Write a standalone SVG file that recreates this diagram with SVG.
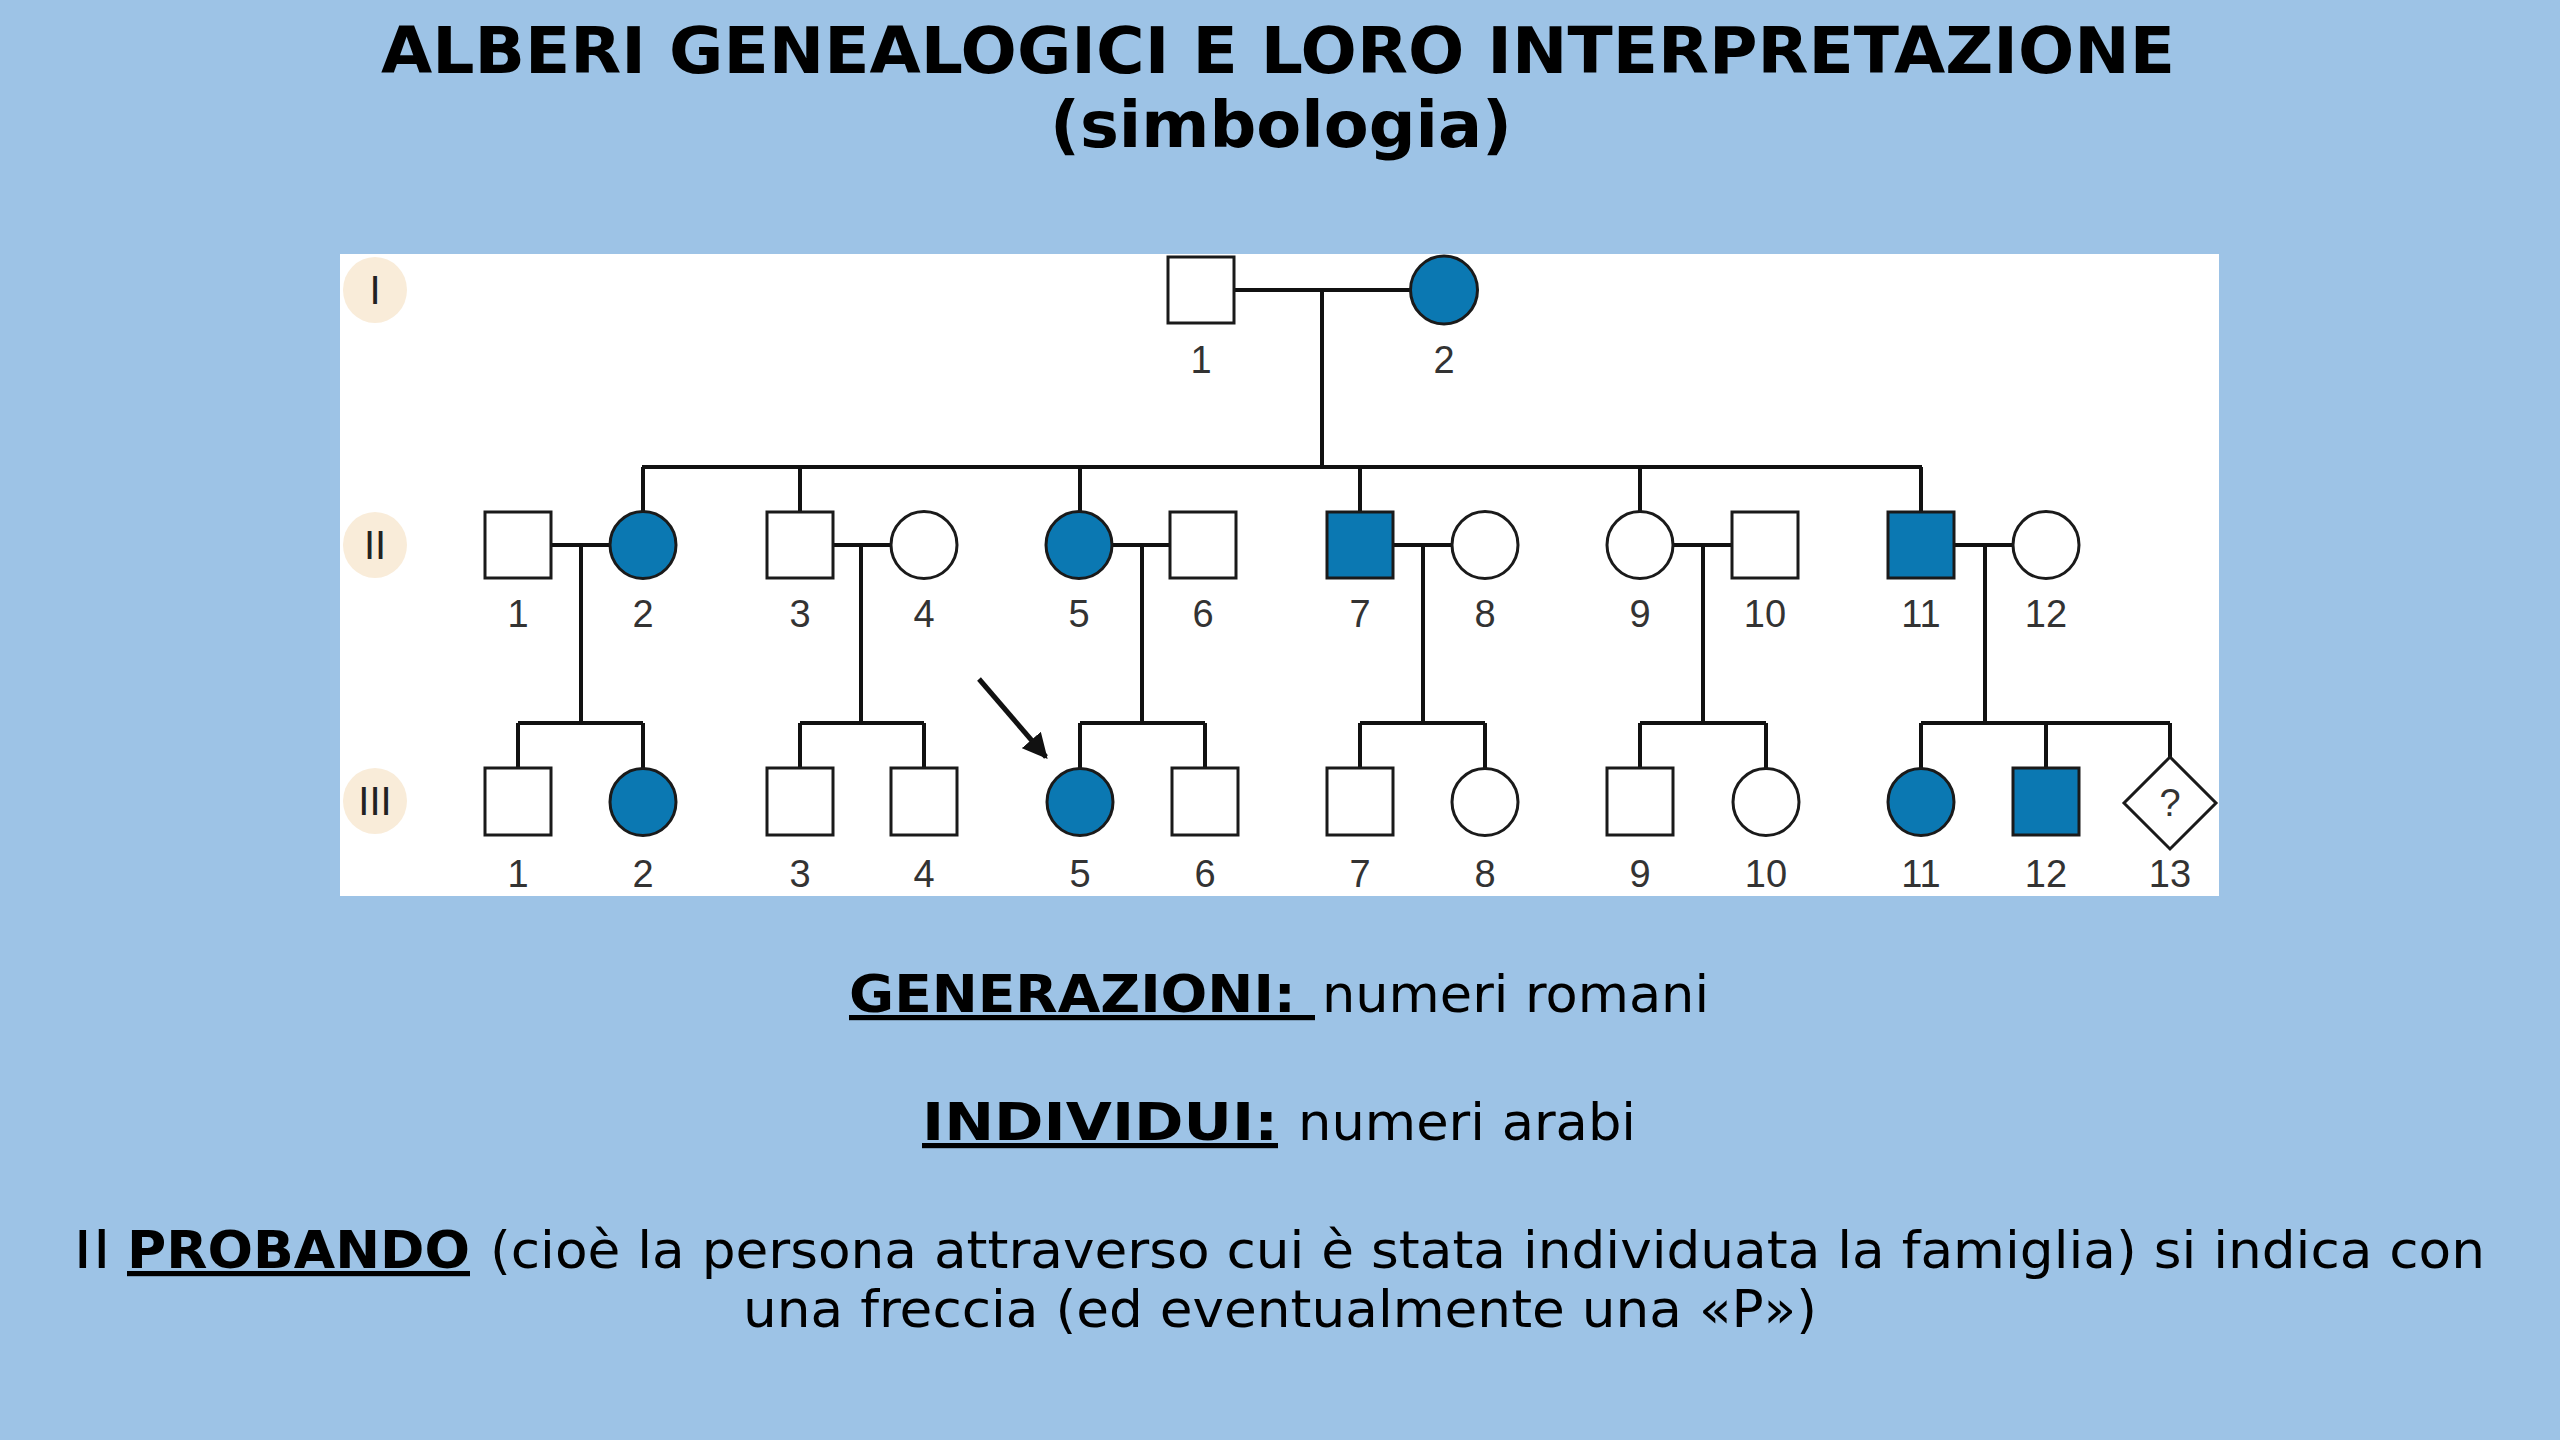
<svg xmlns="http://www.w3.org/2000/svg" width="2560" height="1440" viewBox="0 0 2560 1440">
<defs>
<style>
.title{font-family:"DejaVu Sans","Liberation Sans",sans-serif;font-weight:bold;font-size:64px;fill:#000}
.body{font-family:"DejaVu Sans","Liberation Sans",sans-serif;font-size:52px;fill:#000}
.b{font-weight:bold;text-decoration:underline}
.sq{fill:#fff;stroke:#1a1a1a;stroke-width:3}
.ci{fill:#fff;stroke:#1a1a1a;stroke-width:3}
.aff{fill:#0b78b2}
.lbl{font-family:"Liberation Sans","DejaVu Sans",sans-serif;font-size:38px;fill:#333;text-anchor:middle}
.gen{fill:#f9ecd9}
.genT{font-family:"Liberation Sans","DejaVu Sans",sans-serif;font-size:40px;fill:#222;text-anchor:middle}
.ln{stroke:#111;stroke-width:4;fill:none}
</style>
<marker id="ah" viewBox="0 0 10 10" refX="9" refY="5" markerWidth="5" markerHeight="5" orient="auto" markerUnits="strokeWidth">
<path d="M0,0 L10,5 L0,10 z" fill="#111"/>
</marker>
</defs>
<rect width="2560" height="1440" fill="#9dc3e6"/>
<text class="title" x="1278" y="73" text-anchor="middle" textLength="1794" lengthAdjust="spacingAndGlyphs">ALBERI GENEALOGICI E LORO INTERPRETAZIONE</text>
<text class="title" x="1281" y="147" text-anchor="middle" textLength="462" lengthAdjust="spacingAndGlyphs">(simbologia)</text>

<rect x="340" y="254" width="1879" height="642" fill="#fff"/>

<g id="generations">
<g id="gen-I"><ellipse class="gen" cx="375" cy="290" rx="32" ry="33"/><text class="genT" x="375" y="304">I</text></g>
<g id="gen-II"><ellipse class="gen" cx="375" cy="545" rx="32" ry="33"/><text class="genT" x="375" y="559">II</text></g>
<g id="gen-III"><ellipse class="gen" cx="375" cy="801" rx="32" ry="33"/><text class="genT" x="375" y="815">III</text></g>
</g>

<g id="connectors" class="ln">
<path d="M1234,290 H1410 M1322,290 V467 M642,467 H1922"/>
<path d="M643,467 V512 M800,467 V512 M1080,467 V512 M1360,467 V512 M1640,467 V512 M1921,467 V512"/>
<path d="M551,545 H610 M833,545 H891 M1112,545 H1170 M1393,545 H1451 M1673,545 H1732 M1954,545 H2013"/>
<path d="M581,545 V723 M861,545 V723 M1142,545 V723 M1423,545 V723 M1703,545 V723 M1985,545 V723"/>
<path d="M518,723 H643 M800,723 H924 M1080,723 H1205 M1360,723 H1485 M1640,723 H1766 M1921,723 H2170"/>
<path d="M518,723 V768 M643,723 V768 M800,723 V768 M924,723 V768 M1080,723 V768 M1205,723 V768 M1360,723 V768 M1485,723 V768 M1640,723 V768 M1766,723 V768 M1921,723 V768 M2046,723 V768 M2170,723 V757"/>
<line x1="979" y1="679" x2="1046" y2="757" stroke-width="5" marker-end="url(#ah)"/>
</g>

<g id="I-1"><rect class="sq" x="1168" y="257" width="66" height="66"/><text class="lbl" x="1201" y="373">1</text></g>
<g id="I-2"><ellipse class="ci aff" cx="1444" cy="290" rx="33.5" ry="34"/><text class="lbl" x="1444" y="373">2</text></g>

<g id="II-1"><rect class="sq" x="485" y="512" width="66" height="66"/><text class="lbl" x="518" y="627">1</text></g>
<g id="II-2"><ellipse class="ci aff" cx="643" cy="545" rx="33" ry="33.5"/><text class="lbl" x="643" y="627">2</text></g>
<g id="II-3"><rect class="sq" x="767" y="512" width="66" height="66"/><text class="lbl" x="800" y="627">3</text></g>
<g id="II-4"><ellipse class="ci" cx="924" cy="545" rx="33" ry="33.5"/><text class="lbl" x="924" y="627">4</text></g>
<g id="II-5"><ellipse class="ci aff" cx="1079" cy="545" rx="33" ry="33.5"/><text class="lbl" x="1079" y="627">5</text></g>
<g id="II-6"><rect class="sq" x="1170" y="512" width="66" height="66"/><text class="lbl" x="1203" y="627">6</text></g>
<g id="II-7"><rect class="sq aff" x="1327" y="512" width="66" height="66"/><text class="lbl" x="1360" y="627">7</text></g>
<g id="II-8"><ellipse class="ci" cx="1485" cy="545" rx="33" ry="33.5"/><text class="lbl" x="1485" y="627">8</text></g>
<g id="II-9"><ellipse class="ci" cx="1640" cy="545" rx="33" ry="33.5"/><text class="lbl" x="1640" y="627">9</text></g>
<g id="II-10"><rect class="sq" x="1732" y="512" width="66" height="66"/><text class="lbl" x="1765" y="627">10</text></g>
<g id="II-11"><rect class="sq aff" x="1888" y="512" width="66" height="66"/><text class="lbl" x="1921" y="627">11</text></g>
<g id="II-12"><ellipse class="ci" cx="2046" cy="545" rx="33" ry="33.5"/><text class="lbl" x="2046" y="627">12</text></g>

<g id="III-1"><rect class="sq" x="485" y="768" width="66" height="67"/><text class="lbl" x="518" y="887">1</text></g>
<g id="III-2"><ellipse class="ci aff" cx="643" cy="802" rx="33" ry="33.5"/><text class="lbl" x="643" y="887">2</text></g>
<g id="III-3"><rect class="sq" x="767" y="768" width="66" height="67"/><text class="lbl" x="800" y="887">3</text></g>
<g id="III-4"><rect class="sq" x="891" y="768" width="66" height="67"/><text class="lbl" x="924" y="887">4</text></g>
<g id="III-5"><ellipse class="ci aff" cx="1080" cy="802" rx="33" ry="33.5"/><text class="lbl" x="1080" y="887">5</text></g>
<g id="III-6"><rect class="sq" x="1172" y="768" width="66" height="67"/><text class="lbl" x="1205" y="887">6</text></g>
<g id="III-7"><rect class="sq" x="1327" y="768" width="66" height="67"/><text class="lbl" x="1360" y="887">7</text></g>
<g id="III-8"><ellipse class="ci" cx="1485" cy="802" rx="33" ry="33.5"/><text class="lbl" x="1485" y="887">8</text></g>
<g id="III-9"><rect class="sq" x="1607" y="768" width="66" height="67"/><text class="lbl" x="1640" y="887">9</text></g>
<g id="III-10"><ellipse class="ci" cx="1766" cy="802" rx="33" ry="33.5"/><text class="lbl" x="1766" y="887">10</text></g>
<g id="III-11"><ellipse class="ci aff" cx="1921" cy="802" rx="33" ry="33.5"/><text class="lbl" x="1921" y="887">11</text></g>
<g id="III-12"><rect class="sq aff" x="2013" y="768" width="66" height="67"/><text class="lbl" x="2046" y="887">12</text></g>
<g id="III-13"><polygon class="sq" points="2170,757 2216,803 2170,849 2124,803"/><text class="lbl" x="2170" y="816" font-size="34">?</text><text class="lbl" x="2170" y="887">13</text></g>

<g id="legend">
<text class="body b" x="849" y="1012" textLength="466" lengthAdjust="spacingAndGlyphs" xml:space="preserve">GENERAZIONI: </text>
<text class="body" x="1322" y="1012" textLength="387" lengthAdjust="spacingAndGlyphs">numeri romani</text>
<text class="body b" x="922" y="1140" textLength="356" lengthAdjust="spacingAndGlyphs">INDIVIDUI:</text>
<text class="body" x="1298" y="1140" textLength="338" lengthAdjust="spacingAndGlyphs">numeri arabi</text>
<text class="body" x="73" y="1268" textLength="38" lengthAdjust="spacingAndGlyphs">Il</text>
<text class="body b" x="127" y="1268" textLength="343" lengthAdjust="spacingAndGlyphs">PROBANDO</text>
<text class="body" x="490" y="1268" textLength="1995" lengthAdjust="spacingAndGlyphs">(cioè la persona attraverso cui è stata individuata la famiglia) si indica con</text>
<text class="body" x="743" y="1327" textLength="1074" lengthAdjust="spacingAndGlyphs">una freccia (ed eventualmente una «P»)</text>
</g>
</svg>
